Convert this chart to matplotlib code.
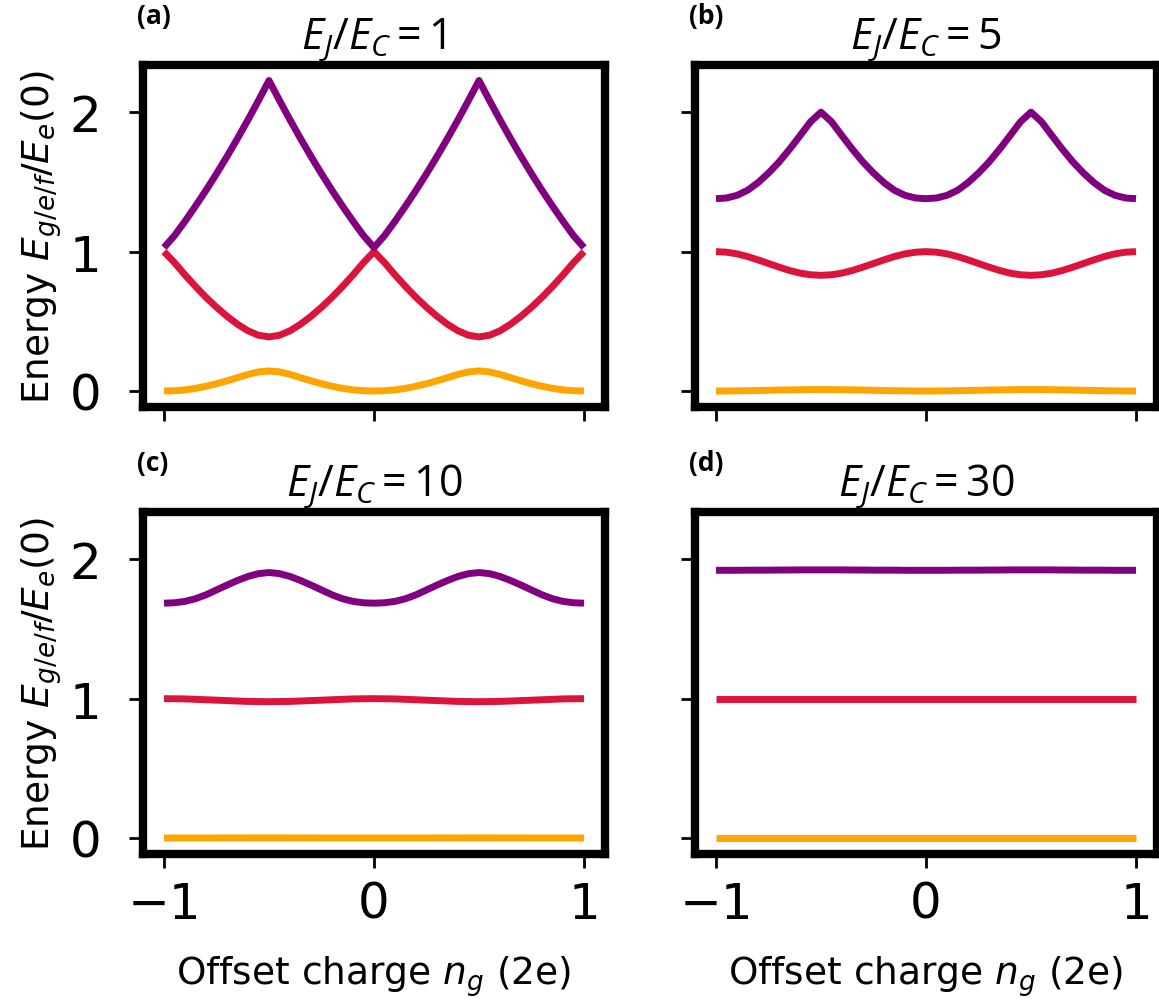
import matplotlib
matplotlib.use('Agg')
import matplotlib.pyplot as plt
import numpy as np

# ---------------- data ----------------
ng = np.linspace(-1.0, 1.0, 41)  # offset charge n_g (2e), step 0.05

ratios = [1, 5, 10, 30]
panel_labels = ['(a)', '(b)', '(c)', '(d)']

g_a = [0.000, 0.002, 0.008, 0.019, 0.034, 0.052, 0.073, 0.096, 0.119, 0.137, 0.144,
       0.137, 0.119, 0.096, 0.073, 0.052, 0.034, 0.019, 0.008, 0.002, 0.000,
       0.002, 0.008, 0.019, 0.034, 0.052, 0.073, 0.096, 0.119, 0.137, 0.144,
       0.137, 0.119, 0.096, 0.073, 0.052, 0.034, 0.019, 0.008, 0.002, 0.000]
e_a = [1.000, 0.921, 0.833, 0.750, 0.672, 0.601, 0.536, 0.479, 0.432, 0.400, 0.388,
       0.400, 0.432, 0.479, 0.536, 0.601, 0.672, 0.750, 0.833, 0.921, 1.000,
       0.921, 0.833, 0.750, 0.672, 0.601, 0.536, 0.479, 0.432, 0.400, 0.388,
       0.400, 0.432, 0.479, 0.536, 0.601, 0.672, 0.750, 0.833, 0.921, 1.000]
f_a = [1.029, 1.115, 1.218, 1.327, 1.440, 1.559, 1.683, 1.812, 1.946, 2.085, 2.228,
       2.085, 1.946, 1.812, 1.683, 1.559, 1.440, 1.327, 1.218, 1.115, 1.029,
       1.115, 1.218, 1.327, 1.440, 1.559, 1.683, 1.812, 1.946, 2.085, 2.228,
       2.085, 1.946, 1.812, 1.683, 1.559, 1.440, 1.327, 1.218, 1.115, 1.029]

g_b = [0.000, 0.000, 0.001, 0.002, 0.003, 0.005, 0.007, 0.008, 0.009, 0.010, 0.010,
       0.010, 0.009, 0.008, 0.007, 0.005, 0.003, 0.002, 0.001, 0.000, 0.000,
       0.000, 0.001, 0.002, 0.003, 0.005, 0.007, 0.008, 0.009, 0.010, 0.010,
       0.010, 0.009, 0.008, 0.007, 0.005, 0.003, 0.002, 0.001, 0.000, 0.000]
e_b = [1.000, 0.996, 0.984, 0.965, 0.941, 0.915, 0.889, 0.865, 0.846, 0.834, 0.830,
       0.834, 0.846, 0.865, 0.889, 0.915, 0.941, 0.965, 0.984, 0.996, 1.000,
       0.996, 0.984, 0.965, 0.941, 0.915, 0.889, 0.865, 0.846, 0.834, 0.830,
       0.834, 0.846, 0.865, 0.889, 0.915, 0.941, 0.965, 0.984, 0.996, 1.000]
f_b = [1.380, 1.385, 1.404, 1.440, 1.495, 1.564, 1.643, 1.734, 1.832, 1.932, 2.001,
       1.932, 1.832, 1.734, 1.643, 1.564, 1.495, 1.440, 1.404, 1.385, 1.380,
       1.385, 1.404, 1.440, 1.495, 1.564, 1.643, 1.734, 1.832, 1.932, 2.001,
       1.932, 1.832, 1.734, 1.643, 1.564, 1.495, 1.440, 1.404, 1.385, 1.380]

g_c = [0.0000, 0.0000, 0.0000, 0.0001, 0.0001, 0.0002, 0.0003, 0.0004, 0.0004, 0.0005, 0.0005,
       0.0005, 0.0004, 0.0004, 0.0003, 0.0002, 0.0001, 0.0001, 0.0000, 0.0000, 0.0000,
       0.0000, 0.0000, 0.0001, 0.0001, 0.0002, 0.0003, 0.0004, 0.0004, 0.0005, 0.0005,
       0.0005, 0.0004, 0.0004, 0.0003, 0.0002, 0.0001, 0.0001, 0.0000, 0.0000, 0.0000]
e_c = [1.000, 0.999, 0.998, 0.995, 0.992, 0.989, 0.986, 0.983, 0.980, 0.979, 0.978,
       0.979, 0.980, 0.983, 0.986, 0.989, 0.992, 0.995, 0.998, 0.999, 1.000,
       0.999, 0.998, 0.995, 0.992, 0.989, 0.986, 0.983, 0.980, 0.979, 0.978,
       0.979, 0.980, 0.983, 0.986, 0.989, 0.992, 0.995, 0.998, 0.999, 1.000]
f_c = [1.685, 1.688, 1.698, 1.717, 1.745, 1.780, 1.815, 1.848, 1.877, 1.897, 1.905,
       1.897, 1.877, 1.848, 1.815, 1.780, 1.745, 1.717, 1.698, 1.688, 1.685,
       1.688, 1.698, 1.717, 1.745, 1.780, 1.815, 1.848, 1.877, 1.897, 1.905,
       1.897, 1.877, 1.848, 1.815, 1.780, 1.745, 1.717, 1.698, 1.688, 1.685]

g_d = [0.000] * 41
e_d = [1.000] * 41
f_d = [1.921, 1.921, 1.921, 1.922, 1.922, 1.922, 1.923, 1.923, 1.924, 1.924, 1.924,
       1.924, 1.924, 1.923, 1.923, 1.922, 1.922, 1.922, 1.921, 1.921, 1.921,
       1.921, 1.921, 1.922, 1.922, 1.922, 1.923, 1.923, 1.924, 1.924, 1.924,
       1.924, 1.924, 1.923, 1.923, 1.922, 1.922, 1.922, 1.921, 1.921, 1.921]

levels = [(g_a, e_a, f_a), (g_b, e_b, f_b), (g_c, e_c, f_c), (g_d, e_d, f_d)]
level_colors = ['orange', 'crimson', 'purple']

# ---------------- style ----------------
plt.rcParams['font.family'] = ['DejaVu Sans']
plt.rcParams['mathtext.fontset'] = 'dejavusans'
plt.rcParams['mathtext.rm'] = 'Open Sans'
plt.rcParams['mathtext.it'] = 'Open Sans:italic'
plt.rcParams['mathtext.bf'] = 'Open Sans:bold'

W, H = 1159, 1004
fig = plt.figure(figsize=(W / 100, H / 100), dpi=100)

def px_rect(left, top, right, bottom):
    return [left / W, 1 - bottom / H, (right - left) / W, (bottom - top) / H]

rects = [px_rect(143, 66, 605, 407.5), px_rect(695, 66, 1157, 407.5),
         px_rect(143, 513, 605, 854.5), px_rect(695, 513, 1157, 854.5)]

axes = []
for i, r in enumerate(rects):
    if i == 0:
        ax = fig.add_axes(r)
    else:
        ax = fig.add_axes(r, sharex=axes[0], sharey=axes[0])
    axes.append(ax)

for i, ax in enumerate(axes):
    for y, c in zip(levels[i], level_colors):
        ax.plot(ng, y, color=c, lw=5, solid_capstyle='butt')
    for s in ax.spines.values():
        s.set_linewidth(6)
    ax.set_xticks([-1, 0, 1])
    ax.set_yticks([0, 1, 2])
    ax.tick_params(direction='out', length=10, width=2, labelsize=36)
    ax.tick_params(axis='x', pad=9)
    ax.tick_params(axis='y', pad=20)
    ax.set_title(r'$E_J/E_C = %d$' % ratios[i], fontsize=31, pad=13,
                 math_fontfamily='custom')
    ax.text(-0.013, 1.123, panel_labels[i], transform=ax.transAxes,
            fontsize=19, fontweight='bold', family='Open Sans',
            ha='left', va='baseline')
    if i < 2:
        ax.tick_params(labelbottom=False)
    else:
        ax.set_xlabel(r'Offset charge $n_g$ (2e)', fontsize=27, labelpad=18)
    if i % 2 == 1:
        ax.tick_params(labelleft=False)
    else:
        ax.set_ylabel(r'Energy $E_{g/e/f}/E_e(0)$', fontsize=27)

fig.savefig('out.png', dpi=100)
